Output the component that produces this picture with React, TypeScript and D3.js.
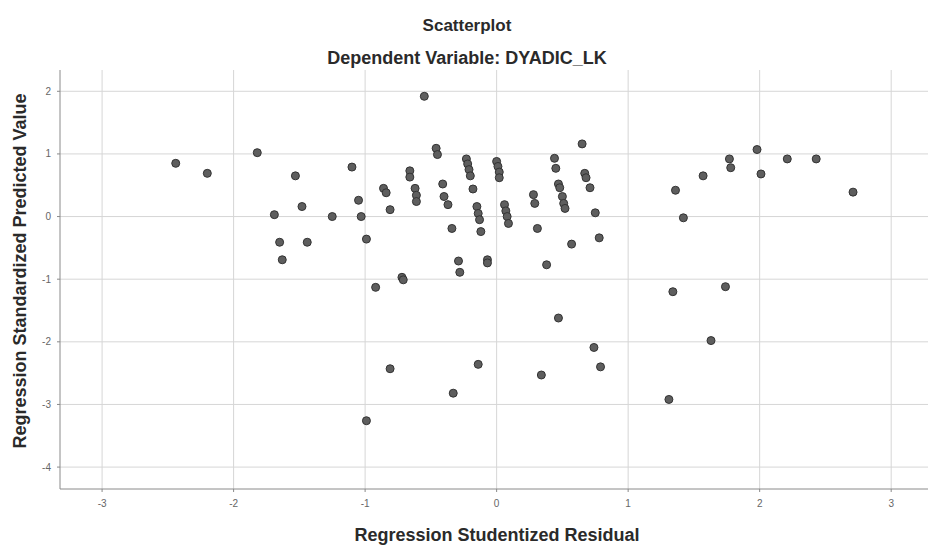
import * as d3 from 'd3';
import React from 'react';

// studentized residuals (x) and standardized predicted values (y)
const residuals = [
  -2.44, -2.2, -1.82, -1.53, -1.48, -1.69, -1.65, -1.44, -1.63, -1.25,
  -1.1, -1.05, -1.03, -0.99, -0.86, -0.84, -0.81, -0.92, -0.72, -0.71,
  -0.81, -0.99, -0.66, -0.66, -0.62, -0.61, -0.61, -0.55, -0.46, -0.45,
  -0.41, -0.4, -0.37, -0.34, -0.29, -0.28, -0.33, -0.23, -0.22, -0.21,
  -0.2, -0.18, -0.15, -0.14, -0.13, -0.12, -0.14, -0.07, -0.07, 0.0,
  0.01, 0.02, 0.02, 0.06, 0.07, 0.08, 0.09, 0.28, 0.29, 0.31,
  0.34, 0.38, 0.44, 0.45, 0.47, 0.48, 0.5, 0.51, 0.52, 0.47,
  0.57, 0.65, 0.67, 0.68, 0.71, 0.75, 0.78, 0.74, 0.79, 1.31,
  1.34, 1.36, 1.42, 1.57, 1.63, 1.74, 1.77, 1.78, 1.98, 2.01,
  2.21, 2.43, 2.71,
];
const predicted = [
  0.85, 0.69, 1.02, 0.65, 0.16, 0.03, -0.41, -0.41, -0.69, 0.0,
  0.79, 0.26, 0.0, -0.36, 0.45, 0.38, 0.11, -1.13, -0.97, -1.01,
  -2.43, -3.26, 0.73, 0.63, 0.45, 0.34, 0.24, 1.92, 1.09, 0.99,
  0.52, 0.32, 0.19, -0.19, -0.71, -0.89, -2.82, 0.92, 0.84, 0.75,
  0.65, 0.44, 0.16, 0.05, -0.05, -0.24, -2.36, -0.69, -0.74, 0.88,
  0.8, 0.71, 0.62, 0.19, 0.09, 0.0, -0.11, 0.35, 0.21, -0.19,
  -2.53, -0.77, 0.93, 0.77, 0.52, 0.46, 0.32, 0.21, 0.13, -1.62,
  -0.44, 1.16, 0.69, 0.62, 0.46, 0.06, -0.34, -2.09, -2.4, -2.92,
  -1.2, 0.42, -0.02, 0.65, -1.98, -1.12, 0.92, 0.78, 1.07, 0.68,
  0.92, 0.92, 0.39,
];
const xTicks = [-3, -2, -1, 0, 1, 2, 3];
const yTicks = [2, 1, 0, -1, -2, -3, -4];

const App = () => {
  const width = 928,
    height = 546;
  const margin = { top: 70, right: 0, bottom: 57, left: 60 };
  const innerBottom = height - margin.bottom;

  const x = d3.scaleLinear().domain([-3.32, 3.28]).range([margin.left, width - margin.right]);
  const y = d3.scaleLinear().domain([-4.35, 2.34]).range([innerBottom, margin.top]);

  const points = residuals.map((r, i) => ({ x: r, y: predicted[i] }));
  const font = '"Liberation Sans", Arial, sans-serif';

  return (
    <svg
      width={width}
      height={height}
      style={{ position: 'absolute', left: 0, top: 0, background: '#fff' }}
      fontFamily={font}
    >
      <text x={467} y={31} textAnchor="middle" fontSize={17} fontWeight="bold" fill="#2a2a2a">
        Scatterplot
      </text>
      <text x={467} y={64} textAnchor="middle" fontSize={18} fontWeight="bold" fill="#2a2a2a">
        Dependent Variable: DYADIC_LK
      </text>

      {/* grid */}
      <g stroke="#d6d6d6" strokeWidth={1}>
        {xTicks.map((t) => (
          <line key={'gx' + t} x1={x(t)} x2={x(t)} y1={margin.top} y2={innerBottom} />
        ))}
        {yTicks.map((t) => (
          <line key={'gy' + t} x1={margin.left} x2={width} y1={y(t)} y2={y(t)} />
        ))}
      </g>

      {/* axes */}
      <g stroke="#8a8a8a" strokeWidth={1}>
        <line x1={margin.left} x2={margin.left} y1={margin.top} y2={innerBottom} />
        <line x1={margin.left} x2={width} y1={innerBottom} y2={innerBottom} />
        {xTicks.map((t) => (
          <line key={'tx' + t} x1={x(t)} x2={x(t)} y1={innerBottom} y2={innerBottom + 3} />
        ))}
        {yTicks.map((t) => (
          <line key={'ty' + t} x1={margin.left - 3} x2={margin.left} y1={y(t)} y2={y(t)} />
        ))}
      </g>

      <g fontSize={10} fill="#666">
        {xTicks.map((t) => (
          <text key={'lx' + t} x={x(t)} y={507} textAnchor="middle">
            {t}
          </text>
        ))}
        {yTicks.map((t) => (
          <text key={'ly' + t} x={51} y={y(t) + 3.5} textAnchor="end">
            {t}
          </text>
        ))}
      </g>

      <text x={497} y={541} textAnchor="middle" fontSize={18} fontWeight="bold" fill="#2a2a2a">
        Regression Studentized Residual
      </text>
      <text
        transform="translate(26,271) rotate(-90)"
        textAnchor="middle"
        fontSize={18}
        fontWeight="bold"
        fill="#2a2a2a"
      >
        Regression Standardized Predicted Value
      </text>

      <g>
        {points.map((d, i) => (
          <circle
            key={i}
            cx={x(d.x)}
            cy={y(d.y)}
            r={4}
            fill="#5e5e5e"
            stroke="#333"
            strokeWidth={1}
          />
        ))}
      </g>
    </svg>
  );
};

export default App;
